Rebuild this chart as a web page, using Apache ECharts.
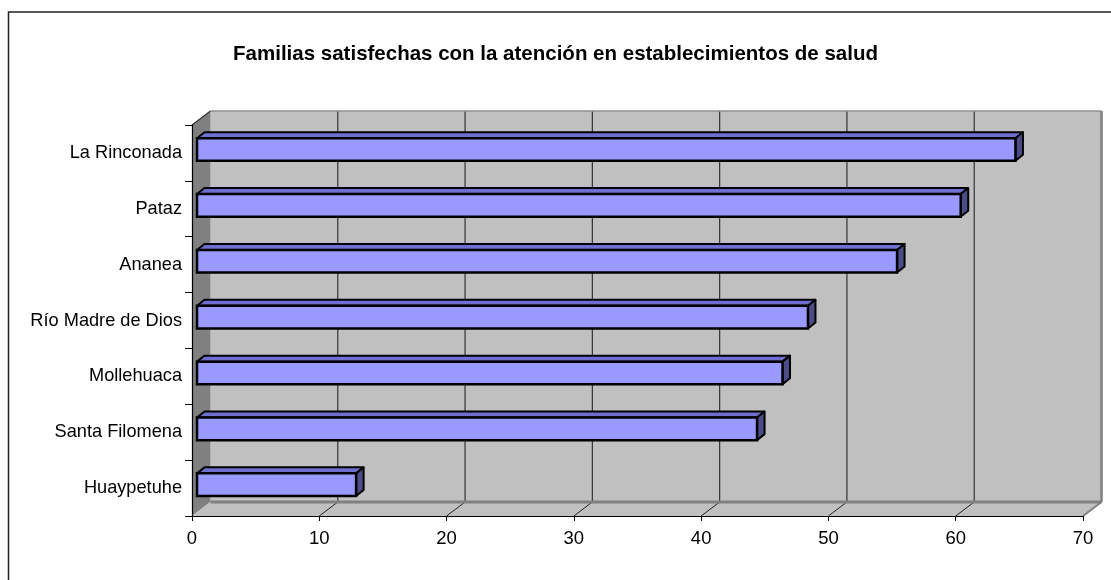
<!DOCTYPE html>
<html><head><meta charset="utf-8">
<script src="https://cdn.jsdelivr.net/npm/echarts/dist/echarts.min.js"></script>
<style>html,body{margin:0;padding:0;background:#fff}#c{width:1111px;height:580px}</style>
</head><body><div id="c"></div>
<script>
const titleText = 'Familias satisfechas con la atención en establecimientos de salud';
const categories = ['La Rinconada','Pataz','Ananea','Río Madre de Dios','Mollehuaca','Santa Filomena','Huaypetuhe'];
const values = [64.3, 60, 55, 48, 46, 44, 12.5];
const xTicks = [0,10,20,30,40,50,60,70];

const FONT = '"Liberation Sans", Arial, sans-serif';
const DX = 18.5, DY = -14; // depth of the 3D box (style)

function renderWalls(params, api){
  const cs = params.coordSys;
  const X0 = api.coord([xTicks[0], 0])[0];
  const X1 = api.coord([xTicks[xTicks.length-1], 0])[0];
  const Yt = cs.y, Yb = cs.y + cs.height;
  const ch = [];
  ch.push({type:'rect', shape:{x:X0+DX, y:Yt+DY, width:X1-X0, height:Yb-Yt}, style:{fill:'#C0C0C0'}});
  ch.push({type:'polygon', shape:{points:[[X0,Yt],[X0+DX,Yt+DY],[X0+DX,Yb+DY],[X0,Yb]]}, style:{fill:'#808080'}});
  ch.push({type:'polygon', shape:{points:[[X0,Yb],[X0+DX,Yb+DY],[X1+DX,Yb+DY],[X1,Yb]]}, style:{fill:'#C0C0C0'}});
  xTicks.slice(1, -1).forEach(t => {
    const x = api.coord([t, 0])[0];
    ch.push({type:'line', shape:{x1:x+DX, y1:Yt+DY, x2:x+DX, y2:Yb+DY}, style:{stroke:'#333', lineWidth:1.2}});
    ch.push({type:'line', shape:{x1:x, y1:Yb, x2:x+DX, y2:Yb+DY}, style:{stroke:'#222', lineWidth:1}});
  });
  ch.push({type:'line', shape:{x1:X0+DX, y1:Yb+DY, x2:X1+DX, y2:Yb+DY}, style:{stroke:'#808080', lineWidth:3}});
  ch.push({type:'line', shape:{x1:X0+DX, y1:Yt+DY, x2:X1+DX, y2:Yt+DY}, style:{stroke:'#909090', lineWidth:1.5}});
  ch.push({type:'line', shape:{x1:X1+DX, y1:Yt+DY, x2:X1+DX, y2:Yb+DY}, style:{stroke:'#808080', lineWidth:2.5}});
  ch.push({type:'line', shape:{x1:X1, y1:Yb, x2:X1+DX, y2:Yb+DY}, style:{stroke:'#808080', lineWidth:2}});
  ch.push({type:'line', shape:{x1:X0, y1:Yt, x2:X0+DX, y2:Yt+DY}, style:{stroke:'#333', lineWidth:1.2}});
  return {type:'group', children:ch};
}

function renderBar(params, api){
  const v = api.value(0), c = api.value(1);
  const p0 = api.coord([0, c]), p1 = api.coord([v, c]);
  const band = api.size([0, 1])[1];
  const h = band * 0.405;
  const fx = 5, fy = -3.4, bx = 7.5, by = -6;
  const xl = p0[0] + fx, xr = p1[0] + fx, yt = p0[1] + fy - h/2, yb = yt + h;
  return {type:'group', children:[
    {type:'polygon', shape:{points:[[xl,yt],[xr,yt],[xr+bx,yt+by],[xl+bx,yt+by]]}, style:{fill:'#6F6FCF', stroke:'#000', lineWidth:2, lineJoin:'round'}},
    {type:'polygon', shape:{points:[[xr,yt],[xr+bx,yt+by],[xr+bx,yb+by],[xr,yb]]}, style:{fill:'#4C4C88', stroke:'#000', lineWidth:2, lineJoin:'round'}},
    {type:'rect', shape:{x:xl, y:yt, width:xr-xl, height:h}, style:{fill:'#9999FF', stroke:'#000', lineWidth:2.5}}
  ]};
}

const chart = echarts.init(document.getElementById('c'), null, {renderer:'canvas'});
chart.setOption({
  animation:false,
  backgroundColor:'#fff',
  title:{text:titleText, left:'center', top:39, textStyle:{fontFamily:FONT, fontWeight:'bold', fontSize:20.5, color:'#000'}},
  graphic:[{type:'rect', shape:{x:8.5, y:12, width:1200, height:700}, style:{fill:'none', stroke:'#222', lineWidth:1.5}, z:0}],
  grid:{left:192, right:28, top:125, bottom:64, containLabel:false},
  xAxis:{type:'value', min:0, max:70, interval:10, z:5,
    axisLine:{show:true, lineStyle:{color:'#000', width:1.2}},
    axisTick:{show:true, length:5, lineStyle:{color:'#000'}},
    splitLine:{show:false},
    axisLabel:{fontFamily:FONT, fontSize:18.5, color:'#000', margin:13}},
  yAxis:{type:'category', data:categories, inverse:true, z:5,
    axisLine:{show:true, lineStyle:{color:'#000', width:1.2}},
    axisTick:{show:true, length:7, lineStyle:{color:'#000'}},
    axisLabel:{fontFamily:FONT, fontSize:18.2, color:'#000', margin:10}},
  series:[
    {type:'custom', z:1, silent:true, renderItem:renderWalls, data:[[0,0]], encode:{x:0, y:1}},
    {type:'custom', z:3, renderItem:renderBar, data:values.map((v,i)=>[v,i]), encode:{x:0, y:1}}
  ]
});
</script></body></html>
